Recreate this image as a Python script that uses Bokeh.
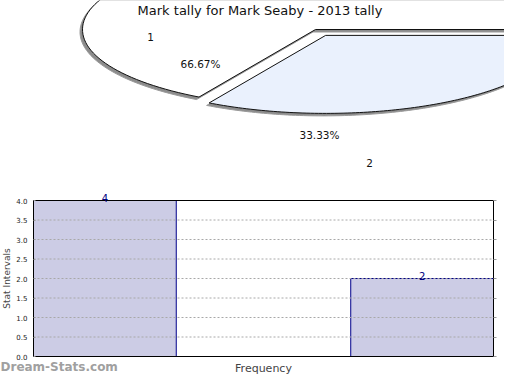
import numpy as np
from bokeh.plotting import figure
from bokeh.models import (Range1d, ColumnDataSource, LinearAxis, FixedTicker,
                          SingleIntervalTicker, NumeralTickFormatter, CustomJSTickFormatter)
from bokeh.core.properties import value
from bokeh.embed import file_html
from bokeh.resources import INLINE

# ---------------- data ----------------
title_text = "Mark tally for Mark Seaby - 2013 tally"
marks = ["1", "2"]
tally = [4, 2]
pct_labels = ["66.67%", "33.33%"]
y_label = "Stat Intervals"
x_label = "Frequency"
watermark = "Dream-Stats.com"

FONT = "DejaVu Sans"
W = 504
PIE_H = 188
BAR_H = 186

# ---------------- pie (pixel-like data coords) ----------------
pie = figure(width=W, height=PIE_H, x_range=Range1d(0, W), y_range=Range1d(PIE_H, 0),
             output_backend="svg", toolbar_location=None, min_border=0,
             min_border_left=0, min_border_right=0, min_border_top=0, min_border_bottom=0,
             x_axis_location=None, y_axis_location=None)
pie.grid.visible = False
pie.outline_line_color = None

cx, cy, ra, rb = 315.0, 29.0, 233.0, 78.0
explode = [0.0, 0.087]
fills = ["#ffffff", "#eaf1fd"]
total = float(sum(tally))
starts = np.cumsum([0] + tally[:-1]) / total * 2 * np.pi
ends = np.cumsum(tally) / total * 2 * np.pi

for i in range(len(tally)):
    th = np.linspace(starts[i], ends[i], 120)
    mid = 0.5 * (starts[i] + ends[i])
    ox = explode[i] * ra * np.cos(mid)
    oy = -explode[i] * rb * np.sin(mid)
    xs = np.concatenate([[cx + ox], cx + ox + ra * np.cos(th), [cx + ox]])
    ys = np.concatenate([[cy + oy], cy + oy - rb * np.sin(th), [cy + oy]])
    pie.patch(xs - 2.5, ys + 2.5, fill_color="#8c8c8c", line_color="#9a9a9a", line_width=1)
    pie.patch(xs, ys, fill_color=fills[i], line_color="#111111", line_width=1)

pie.text(x=[259.5], y=[10], text=[title_text], text_font=value(FONT),
         text_font_size="13px", text_align="center", text_baseline="middle",
         text_color="#111111")
lab_x = [150, 369]
lab_y = [36, 162]
pct_x = [200, 319]
pct_y = [63, 134]
pie.text(x=lab_x, y=lab_y, text=marks, text_font=value(FONT), text_font_size="10.5px",
         text_align="center", text_baseline="middle", text_color="#111111")
pie.text(x=pct_x, y=pct_y, text=pct_labels, text_font=value(FONT), text_font_size="10.5px",
         text_align="center", text_baseline="middle", text_color="#111111")

# ---------------- bars ----------------
bar_x = [1, 2]
bar_w = 0.45
x0, x1 = 1 - bar_w / 2, 2 + bar_w / 2
y_max = 4.0
# pixel layout of the plot box inside the bar canvas
BOX_L, BOX_R, BOX_T, BOX_B = 33, 493, 12, 168
ppx = (BOX_R - BOX_L) / (x1 - x0)
ppy = (BOX_B - BOX_T) / y_max
xr = Range1d(x0 - BOX_L / ppx, x1 + (W - BOX_R) / ppx)
yr = Range1d(-(BAR_H - BOX_B) / ppy, y_max + BOX_T / ppy)

src = ColumnDataSource(dict(x=bar_x, top=tally, lab=[str(v) for v in tally]))
bar = figure(width=W, height=BAR_H, x_range=xr, y_range=yr,
             output_backend="svg", toolbar_location=None, min_border=0,
             min_border_left=0, min_border_right=0, min_border_top=0, min_border_bottom=0,
             x_axis_location=None, y_axis_location=None)
bar.grid.visible = False
bar.outline_line_color = None

bar.vbar(x="x", top="top", width=bar_w, source=src, fill_color="#ccccE5",
         line_color="#00008b", line_width=1)

grid_vals = np.arange(0.5, y_max, 0.5)
bar.segment(x0=[x0] * len(grid_vals), x1=[x1] * len(grid_vals), y0=grid_vals, y1=grid_vals,
            line_color="#a8a8a8", line_dash="2 2", line_width=1)

bar.quad(left=[x0], right=[x1], bottom=[0], top=[y_max], fill_color=None,
         line_color="#000000", line_width=1)

bar.text(x="x", y="top", text="lab", source=src, text_align="center",
         text_baseline="bottom", y_offset=1, text_font=value(FONT),
         text_font_size="10px", text_color="#000080")

ya = LinearAxis(fixed_location=x0, bounds=(0, y_max),
                ticker=SingleIntervalTicker(interval=0.5),
                formatter=NumeralTickFormatter(format="0.0"))
ya.major_label_text_font = FONT
ya.major_label_text_font_size = "7px"
ya.major_label_text_color = "#222222"
ya.major_label_standoff = 2
ya.major_tick_in = 2
ya.major_tick_out = 0
ya.major_tick_line_color = "#999999"
ya.minor_tick_line_color = None
ya.axis_line_color = "#000000"
ya.axis_label = y_label
ya.axis_label_text_font = FONT
ya.axis_label_text_font_size = "9px"
ya.axis_label_text_font_style = "normal"
ya.axis_label_standoff = 1
bar.add_layout(ya, "left")

ry = LinearAxis(fixed_location=x1, bounds=(0, y_max),
                ticker=SingleIntervalTicker(interval=0.5),
                formatter=CustomJSTickFormatter(code="return ''"),
                major_tick_in=0, major_tick_out=3, major_tick_line_color="#999999",
                minor_tick_line_color=None, axis_line_color=None, major_label_standoff=0)
bar.add_layout(ry, "right")

xa = LinearAxis(fixed_location=0, bounds=(x0, x1), ticker=FixedTicker(ticks=[]),
                axis_line_color=None, major_tick_line_color=None, minor_tick_line_color=None)
xa.axis_label = x_label
xa.axis_label_text_font = FONT
xa.axis_label_text_font_size = "11px"
xa.axis_label_text_font_style = "normal"
xa.axis_label_standoff = 5
bar.add_layout(xa, "below")

bar.text(x=[xr.start], y=[yr.start + 1 / ppy], text=[watermark], text_align="left",
         text_baseline="bottom", text_font=value(FONT), text_font_size="12px",
         text_font_style="bold", text_color="#a0a0a0")

open("out.html", "w").write(file_html([pie, bar], INLINE))
